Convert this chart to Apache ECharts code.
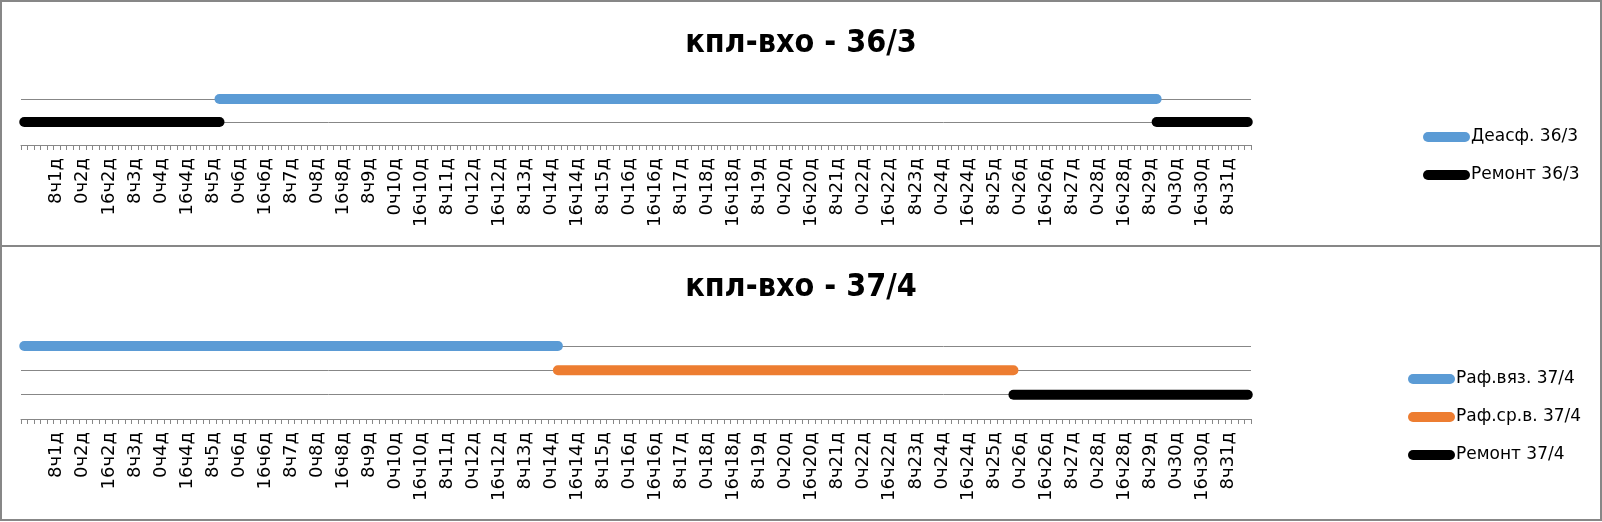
<!DOCTYPE html>
<html>
<head>
<meta charset="utf-8">
<script src="https://cdn.jsdelivr.net/npm/echarts@6/dist/echarts.min.js"></script>
<style>
html,body{margin:0;padding:0;background:#fff;}
#chart{width:1602px;height:522px;}
</style>
</head>
<body>
<div id="chart"></div>
<script>
// ---- data ----
// time axis: categories every 4 hours, starting 12 hours before 0ч1д
const firstHour = -12;
const stepHours = 4;
const categoryCount = 189;

// visible tick labels
const tickLabels = ["8ч1д","0ч2д","16ч2д","8ч3д","0ч4д","16ч4д","8ч5д","0ч6д","16ч6д","8ч7д",
  "0ч8д","16ч8д","8ч9д","0ч10д","16ч10д","8ч11д","0ч12д","16ч12д","8ч13д","0ч14д",
  "16ч14д","8ч15д","0ч16д","16ч16д","8ч17д","0ч18д","16ч18д","8ч19д","0ч20д","16ч20д",
  "8ч21д","0ч22д","16ч22д","8ч23д","0ч24д","16ч24д","8ч25д","0ч26д","16ч26д","8ч27д",
  "0ч28д","16ч28д","8ч29д","0ч30д","16ч30д","8ч31д"];

// panel titles
const titles = ["кпл-вхо - 36/3", "кпл-вхо - 37/4"];

// panel 1 series: [start, end] intervals
const deasf363 = [["12ч5д", "12ч29д"]];
const remont363 = [["12ч0д", "12ч5д"], ["12ч29д", "20ч31д"]];

// panel 2 series
const rafVyaz374 = [["12ч0д", "4ч14д"]];
const rafSrV374 = [["4ч14д", "20ч25д"]];
const remont374 = [["20ч25д", "20ч31д"]];

// ---- build ----
const categories = [];
for (let i = 0; i < categoryCount; i++) {
  const h = firstHour + i * stepHours;
  const day = Math.floor(h / 24) + 1;
  const hr = ((h % 24) + 24) % 24;
  categories.push(hr + "ч" + day + "д");
}
const tickSet = new Set(tickLabels);

const GRAY = '#878787';
const FONT = 'DejaVu Sans';

function xAxisFor(gridIndex) {
  return {
    type: 'category', gridIndex, data: categories, boundaryGap: true,
    axisLine: {show: true, lineStyle: {color: GRAY, width: 1}},
    axisTick: {show: true, interval: 0, length: 5, lineStyle: {color: GRAY, width: 1}},
    axisLabel: {
      rotate: 90, margin: 13, color: '#000', fontFamily: FONT, fontSize: 18,
      interval: function (idx, val) { return tickSet.has(val); }
    },
    splitLine: {show: false}
  };
}
function yAxisFor(gridIndex, max) {
  return {
    type: 'value', gridIndex, min: 0, max: max, interval: 1,
    axisLine: {show: false}, axisTick: {show: false}, axisLabel: {show: false},
    splitLine: {show: true, lineStyle: {color: GRAY, width: 1}}
  };
}
const series = [];
function addSeries(name, intervals, level, color, axisIdx) {
  intervals.forEach(function (seg) {
    series.push({
      name: name, type: 'line', xAxisIndex: axisIdx, yAxisIndex: axisIdx,
      data: [[seg[0], level], [seg[1], level]],
      symbol: 'none', clip: false, color: color,
      itemStyle: {color: color},
      lineStyle: {width: 10, color: color, cap: 'round'},
      animation: false, z: 3
    });
  });
}
const BLUE = '#5B9BD5', ORANGE = '#ED7D31', BLACK = '#000000';
addSeries('Деасф. 36/3', deasf363, 2, BLUE, 0);
addSeries('Ремонт 36/3', remont363, 1, BLACK, 0);
addSeries('Раф.вяз. 37/4', rafVyaz374, 3, BLUE, 1);
addSeries('Раф.ср.в. 37/4', rafSrV374, 2, ORANGE, 1);
addSeries('Ремонт 37/4', remont374, 1, BLACK, 1);

const capsule = 'path://M5,0 L42,0 A5,5 0 0 1 42,10 L5,10 A5,5 0 0 1 5,0 Z';
function legendFor(names, left, top) {
  return {
    data: names, orient: 'vertical', left: left, top: top, padding: 0,
    icon: capsule, itemWidth: 47, itemHeight: 10, itemGap: 20,
    selectedMode: false,
    textStyle: {fontFamily: FONT, fontSize: 17, color: '#000', lineHeight: 18, padding: [0, 0, 0, -4]}
  };
}

const chart = echarts.init(document.getElementById('chart'), null, {renderer: 'canvas'});
chart.setOption({
  animation: false,
  backgroundColor: '#fff',
  title: [
    {text: titles[0], left: 'center', top: 28, padding: 0,
     textStyle: {fontFamily: 'DejaVu Sans Condensed', fontWeight: 'bold', fontSize: 32, color: '#000'}},
    {text: titles[1], left: 'center', top: 272, padding: 0,
     textStyle: {fontFamily: 'DejaVu Sans Condensed', fontWeight: 'bold', fontSize: 32, color: '#000'}}
  ],
  legend: [
    legendFor(['Деасф. 36/3', 'Ремонт 36/3'], 1423, 128),
    legendFor(['Раф.вяз. 37/4', 'Раф.ср.в. 37/4', 'Ремонт 37/4'], 1408, 370)
  ],
  grid: [
    {left: 21, width: 1230, top: 99, height: 46},
    {left: 21, width: 1230, top: 346, height: 73}
  ],
  xAxis: [xAxisFor(0), xAxisFor(1)],
  yAxis: [yAxisFor(0, 2), yAxisFor(1, 3)],
  series: series,
  graphic: [
    {type: 'rect', silent: true, z: 100,
     shape: {x: 1, y: 1, width: 1600, height: 519},
     style: {fill: null, stroke: GRAY, lineWidth: 2}},
    {type: 'line', silent: true, z: 100,
     shape: {x1: 0, y1: 246, x2: 1602, y2: 246},
     style: {stroke: GRAY, lineWidth: 2}}
  ]
});
</script>
</body>
</html>
